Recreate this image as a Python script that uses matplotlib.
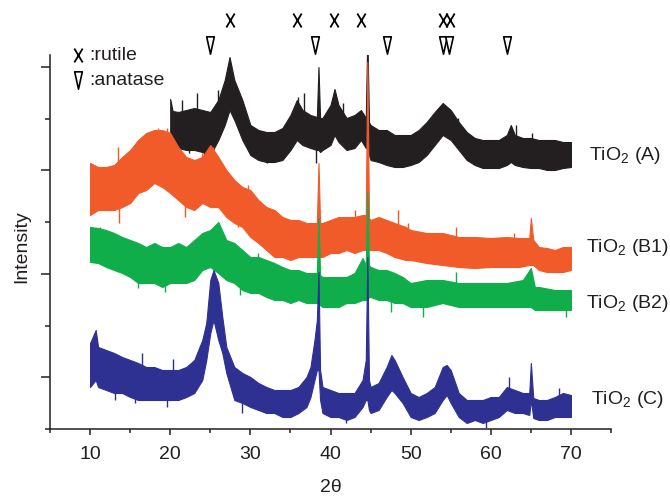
import matplotlib
matplotlib.use("Agg")
import numpy as np
import matplotlib.pyplot as plt
from matplotlib.path import Path
from matplotlib.ticker import FixedLocator

plt.rcParams['font.family'] = ['Liberation Sans', 'DejaVu Sans']
plt.rcParams['mathtext.fontset'] = 'custom'
plt.rcParams['mathtext.rm'] = 'Liberation Sans'
plt.rcParams['mathtext.it'] = 'Liberation Sans:italic'

# XRD traces: 2-theta, upper and lower edge of the noise band (a.u., offset stacked)
x_a = [20.0, 20.3, 21, 22, 23, 24, 25, 26, 26.8, 27.4, 28, 29, 30, 31, 32, 33, 34, 35,
       35.8, 36.5, 37.5, 38.3, 38.5, 38.7, 39, 40, 40.5, 41, 42, 43, 43.8, 44.4, 44.6,
       44.8, 45, 46, 47, 48, 49, 50, 51, 52, 53, 54, 55, 56, 57, 58, 59, 60, 61, 62,
       62.5, 63, 64, 65, 66, 67, 68, 69, 70]
hi_a = [330, 318, 317, 319, 321, 319, 317, 329, 349, 372, 349, 329, 304, 299, 297, 297,
        301, 314, 329, 319, 314, 312, 362, 311, 311, 324, 340, 324, 311, 314, 319, 311,
        394, 307, 304, 299, 299, 294, 294, 294, 299, 307, 317, 326, 319, 307, 297, 291,
        289, 289, 289, 294, 304, 294, 291, 291, 289, 289, 289, 287, 287]
lo_a = [290, 280, 281, 279, 279, 277, 274, 289, 304, 319, 309, 289, 274, 269, 267, 267,
        269, 279, 289, 284, 281, 279, 279, 277, 279, 284, 294, 287, 279, 281, 289, 281,
        281, 274, 269, 267, 264, 262, 262, 264, 267, 274, 284, 294, 289, 279, 269, 264,
        261, 261, 261, 264, 267, 264, 262, 261, 261, 259, 259, 261, 262]

x_b1 = [10, 11, 12, 13, 14, 15, 16, 17, 18, 19, 20, 21, 22, 23, 24, 25, 26, 27, 28, 29,
        30, 31, 32, 33, 34, 35, 36, 37, 38.3, 38.5, 38.7, 39, 40, 41, 42, 43, 44, 44.4,
        44.6, 44.8, 45, 46, 47, 48, 49.4, 50, 52, 54, 56, 58, 60, 62, 63.5, 64.8, 65,
        65.3, 66, 67, 68, 69, 70]
hi_b1 = [266, 262, 262, 264, 272, 279, 289, 296, 299, 299, 296, 282, 272, 269, 272, 284,
         272, 259, 249, 242, 239, 229, 222, 219, 212, 209, 209, 206, 206, 266, 206, 206,
         209, 212, 212, 212, 214, 214, 367, 211, 209, 212, 209, 206, 202, 199, 196, 196,
         192, 192, 191, 192, 191, 191, 211, 189, 182, 181, 179, 182, 182]
lo_b1 = [214, 219, 219, 219, 222, 226, 236, 239, 246, 242, 236, 229, 222, 219, 226, 222,
         222, 212, 206, 202, 192, 186, 179, 172, 172, 169, 172, 172, 172, 172, 172, 172,
         176, 176, 179, 176, 179, 179, 179, 179, 179, 179, 176, 172, 169, 169, 166, 164,
         162, 161, 162, 162, 162, 164, 164, 164, 159, 157, 157, 157, 159]

x_b2 = [10, 11, 12, 13, 14, 15, 16, 17, 18, 19, 20, 21, 22, 23, 24, 25, 26, 27, 28, 29,
        30, 31, 32, 33, 34, 35, 36, 37, 38.3, 38.5, 38.7, 39, 40, 41, 42, 43, 44, 44.4,
        44.6, 44.8, 45, 46, 47, 48, 49, 50, 52, 54, 56, 58, 60, 62, 64, 65, 65.5, 66, 68,
        70]
hi_b2 = [202, 201, 199, 196, 192, 189, 186, 182, 186, 182, 182, 186, 182, 189, 196, 199,
         207, 189, 186, 179, 172, 172, 169, 166, 162, 159, 159, 156, 156, 211, 154, 152,
         152, 152, 152, 156, 171, 164, 237, 164, 162, 159, 159, 156, 152, 146, 149, 149,
         146, 146, 146, 146, 149, 161, 142, 142, 139, 139]
lo_b2 = [167, 166, 162, 159, 156, 152, 146, 146, 146, 142, 146, 146, 146, 149, 159, 162,
         156, 149, 146, 139, 136, 136, 132, 129, 129, 126, 129, 126, 126, 126, 124, 122,
         122, 122, 126, 126, 129, 129, 129, 132, 132, 129, 129, 126, 126, 122, 122, 126,
         122, 122, 122, 122, 122, 122, 119, 119, 119, 119]

x_c = [10, 10.7, 11, 12, 13, 14, 15, 16, 17, 18, 19, 20, 21, 22, 23, 24, 24.5, 25, 25.4,
       26, 26.5, 27, 28, 29, 30, 31, 32, 33, 34, 35, 36, 37, 37.5, 38, 38.3, 38.5, 38.7,
       39, 40, 41, 42, 43, 44, 44.4, 44.6, 44.8, 45, 46, 47, 47.6, 48, 49, 50, 51, 52,
       53, 54, 54.5, 55, 56, 57, 58, 59, 60, 61, 62, 63, 64, 64.8, 65, 65.3, 66, 67, 68,
       69, 70]
hi_c = [86, 99, 82, 79, 76, 72, 69, 66, 62, 62, 59, 59, 59, 62, 69, 89, 106, 149, 159,
        146, 112, 82, 62, 56, 52, 46, 42, 39, 39, 39, 42, 52, 62, 89, 109, 157, 59, 42,
        39, 36, 36, 36, 49, 69, 172, 49, 42, 46, 62, 74, 69, 52, 36, 32, 36, 42, 62, 64,
        59, 36, 29, 29, 29, 32, 32, 42, 39, 36, 36, 66, 31, 29, 29, 32, 36, 34]
lo_c = [42, 49, 42, 39, 36, 36, 32, 29, 29, 29, 29, 29, 29, 32, 36, 49, 69, 96, 109, 89,
        76, 56, 29, 26, 22, 19, 16, 16, 12, 12, 16, 22, 32, 49, 59, 59, 29, 16, 12, 12, 9,
        12, 22, 29, 29, 19, 16, 19, 32, 39, 36, 26, 12, 9, 12, 16, 29, 34, 26, 12, 6, 9, 6,
        9, 12, 19, 16, 16, 14, 29, 11, 9, 9, 12, 12, 12]

# single noise spikes sticking out of each band (2-theta, tip value)
spk_x_a = [21.5, 22.3, 23.4, 24.2, 26.0, 32.1, 36.0, 36.75, 38.2, 41.5, 44.0, 55.9,
           63.1, 65.2]
spk_y_a = [329, 276, 336, 272, 339, 266, 332, 336, 266, 326, 316, 311, 304, 296]
spk_x_b1 = [13.5, 13.6, 18.5, 19.6, 21.9, 24.0, 25.3, 28.5, 29.7, 33.5, 43.1, 48.4,
            49.7, 55.6, 62.9]
spk_y_b1 = [282, 206, 301, 301, 212, 276, 282, 202, 244, 172, 219, 219, 206, 202, 196]
spk_x_b2 = [11.25, 16.0, 18.1, 19.4, 28.75, 30.9, 47.5, 51.5, 55.6, 69.4]
spk_y_b2 = [202, 141, 186, 137, 134, 176, 117, 112, 157, 112]
spk_x_c = [13.1, 15.6, 16.5, 19.6, 20.4, 28.9, 41.9, 59.4, 62.25, 68.5]
spk_y_c = [29, 26, 76, 22, 70, 16, 6, 1, 52, 41]

names = ["TiO$_2$ (A)", "TiO$_2$ (B1)", "TiO$_2$ (B2)", "TiO$_2$ (C)"]
colors = ["#231f20", "#f15a29", "#10ae4b", "#2e3192"]
label_x = [72.25, 71.9, 71.9, 72.5]
label_y = [274, 181, 126, 29]

# phase reflections marked above the patterns
rutile_pos = [27.4, 35.8, 40.4, 43.8, 54.0, 54.9]
anatase_pos = [25.0, 38.1, 47.0, 54.0, 54.8, 62.0]

text_col = "#231f20"

cross = Path([(-0.3, 0.5), (0.3, -0.5), (0.3, 0.5), (-0.3, -0.5)],
             [Path.MOVETO, Path.LINETO, Path.MOVETO, Path.LINETO])
tri = Path([(-0.22, 0.5), (0.22, 0.5), (0.0, -0.5), (-0.22, 0.5)],
           [Path.MOVETO, Path.LINETO, Path.LINETO, Path.CLOSEPOLY])

fig = plt.figure(figsize=(6.7, 4.96), dpi=100)
ax = fig.add_axes([50 / 670, 67 / 496, 561 / 670, 374 / 496])

traces = [(x_a, hi_a, lo_a, spk_x_a, spk_y_a),
          (x_b1, hi_b1, lo_b1, spk_x_b1, spk_y_b1),
          (x_b2, hi_b2, lo_b2, spk_x_b2, spk_y_b2),
          (x_c, hi_c, lo_c, spk_x_c, spk_y_c)]
for i, (xs, hi, lo, sx, sy) in enumerate(traces):
    ax.fill_between(xs, lo, hi, facecolor=colors[i], edgecolor=colors[i],
                    linewidth=0.8, zorder=2 + i)
    # spikes start from the middle of the band
    mid = (np.interp(sx, xs, hi) + np.interp(sx, xs, lo)) / 2
    ax.vlines(sx, mid, sy, color=colors[i], linewidth=1.0, zorder=2 + i)
    ax.text(label_x[i], label_y[i], names[i], fontsize=14, color=text_col,
            va="center", ha="left", clip_on=False)

ax.plot(rutile_pos, [409] * len(rutile_pos), linestyle="none", marker=cross,
        markersize=10, markeredgewidth=1.3, color="black", clip_on=False)
ax.plot(anatase_pos, [384] * len(anatase_pos), linestyle="none", marker=tri,
        markersize=12.5, markeredgewidth=1.2, markerfacecolor="white",
        markeredgecolor="black", clip_on=False)

# legend for the phase symbols
ax.plot([8.5], [374], linestyle="none", marker=cross, markersize=10,
        markeredgewidth=1.3, color="black", clip_on=False)
ax.plot([8.5], [349], linestyle="none", marker=tri, markersize=12.5,
        markeredgewidth=1.2, markerfacecolor="white", markeredgecolor="black",
        clip_on=False)
ax.text(9.9, 374, ":rutile", fontsize=14, color=text_col, va="center")
ax.text(9.9, 349, ":anatase", fontsize=14, color=text_col, va="center")

ax.set_xlim(5, 75)
ax.set_ylim(0, 374)
ax.spines["top"].set_visible(False)
ax.spines["right"].set_visible(False)
for s in ["left", "bottom"]:
    ax.spines[s].set_linewidth(1.1)
    ax.spines[s].set_color(text_col)

ax.xaxis.set_major_locator(FixedLocator([10, 20, 30, 40, 50, 60, 70]))
ax.xaxis.set_minor_locator(FixedLocator([5, 15, 25, 35, 45, 55, 65, 75]))
ax.yaxis.set_major_locator(FixedLocator([51.75, 155.25, 258.75, 362.25]))
ax.yaxis.set_minor_locator(FixedLocator([0, 103.5, 207, 310.5]))
ax.set_yticklabels([])
ax.tick_params(axis="x", which="major", length=4.5, width=1.1, pad=8,
               labelsize=14, colors=text_col)
ax.tick_params(axis="x", which="minor", length=3, width=1.1, colors=text_col)
ax.tick_params(axis="y", which="major", length=6.5, width=1.1, colors=text_col)
ax.tick_params(axis="y", which="minor", length=3.5, width=1.1, colors=text_col)

fig.text(331 / 670, 1 - 488 / 496, "2θ", fontsize=14, color=text_col,
         ha="center", va="center")
fig.text(22 / 670, 1 - 247 / 496, "Intensity", fontsize=14, color=text_col,
         ha="center", va="center", rotation=90)

fig.savefig("out.png", dpi=100)
